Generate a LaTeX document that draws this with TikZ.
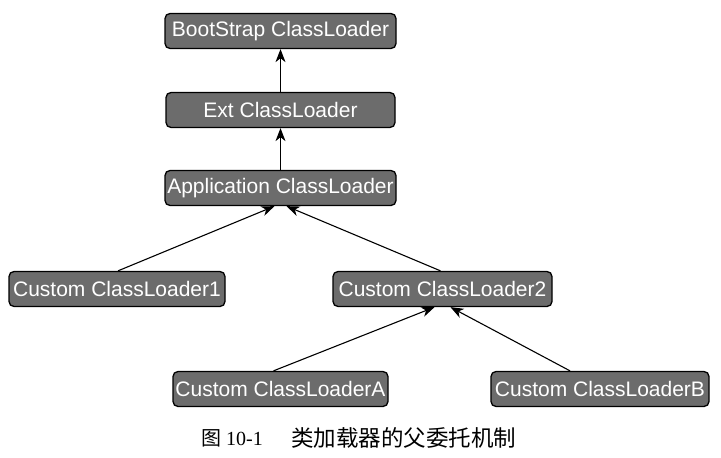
\documentclass[tikz,border=0pt]{standalone}
\usepackage{fontspec}
\setmainfont{Liberation Sans}
\newfontfamily\capserif{Liberation Serif}
\newfontfamily\cjk{Noto Sans CJK SC}
\usetikzlibrary{arrows.meta,calc}
\definecolor{boxgray}{RGB}{108,108,108}
\tikzset{
  loader/.style={draw=black, line width=1.3pt, fill=boxgray, rounded corners=5pt,
    text=white, font=\fontsize{21}{23}\selectfont, minimum height=35pt, inner sep=0pt,
    anchor=center},
  link/.style={-{Stealth[length=13pt,width=10pt,inset=4pt]}, line width=1.1pt, black}
}
\begin{document}
\begin{tikzpicture}[x=1pt,y=-1pt]
\useasboundingbox (0,0) rectangle (721,458);
\node[loader, minimum width=231pt] (boot) at (280.5,31) {BootStrap ClassLoader};
\node[loader, minimum width=229pt] (ext) at (280.5,110) {Ext ClassLoader};
\node[loader, minimum width=231pt] (app) at (280.5,188) {Application ClassLoader};
\node[loader, minimum width=216pt] (c1) at (117,289) {Custom ClassLoader1};
\node[loader, minimum width=219pt] (c2) at (442.5,289) {Custom ClassLoader2};
\node[loader, minimum width=215pt] (ca) at (280.5,389) {Custom ClassLoaderA};
\node[loader, minimum width=218pt] (cb) at (600,389) {Custom ClassLoaderB};
\draw[link] (ext.north) -- (boot.south);
\draw[link] (app.north) -- (ext.south);
\draw[link] ($(c1.north)+(1,0)$) -- ($(app.south)+(-6,0)$);
\draw[link] ($(c2.north)+(-2,0)$) -- ($(app.south)+(6,0)$);
\draw[link] ($(ca.north)+(-7,0)$) -- ($(c2.south)+(-8,0)$);
\draw[link] ($(cb.north)+(-30,0)$) -- ($(c2.south)+(8,0)$);
\node[anchor=west, inner sep=0pt, font=\fontsize{20}{22}\selectfont] (cap1) at (201,438) {\cjk 图\capserif\ 10-1};
\node[anchor=west, inner sep=0pt, font=\fontsize{22.5}{24}\selectfont] (cap2) at (291,438) {\cjk 类加载器的父委托机制};
\end{tikzpicture}
\end{document}
